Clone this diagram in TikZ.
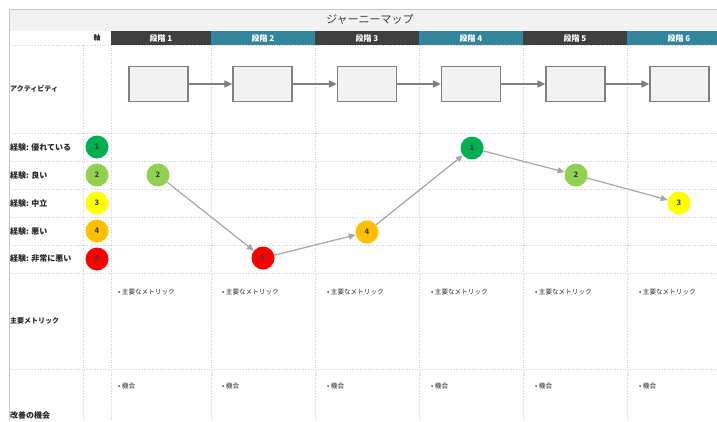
\documentclass[tikz,border=0pt]{standalone}
\usepackage{fontspec}
\setmainfont{Noto Sans CJK JP}
\usetikzlibrary{arrows.meta}
\definecolor{hdrdark}{HTML}{3F3F3F}
\definecolor{hdrteal}{HTML}{31869B}
\definecolor{titlebg}{HTML}{F2F2F2}
\definecolor{framegray}{HTML}{C8C8C8}
\definecolor{gridgray}{HTML}{D0D0D0}
\definecolor{boxfill}{HTML}{F2F2F2}
\definecolor{boxdraw}{HTML}{808080}
\definecolor{pathgray}{HTML}{A6A6A6}
\definecolor{txtdark}{HTML}{262626}
\definecolor{numgray}{HTML}{404040}
\definecolor{c1}{HTML}{00B050}
\definecolor{c2}{HTML}{92D050}
\definecolor{c3}{HTML}{FFFF00}
\definecolor{c4}{HTML}{FFC000}
\definecolor{c5}{HTML}{FF0000}
\tikzset{
  gridline/.style={gridgray, dotted, line width=0.6pt},
  hdrtext/.style={text=white, font=\fontsize{8}{9}\selectfont\bfseries, inner sep=0pt},
  rowlabel/.style={anchor=west, text=txtdark, font=\fontsize{8}{9}\selectfont\bfseries, inner sep=0pt},
  smalllabel/.style={rowlabel, font=\fontsize{7}{8}\selectfont\bfseries},
  celltext/.style={anchor=west, text=txtdark, font=\fontsize{6.6}{8}\selectfont, inner sep=0pt},
  actbox/.style={draw=boxdraw, fill=boxfill, line width=1.2pt, minimum width=59pt, minimum height=35pt, inner sep=0pt},
  actarrow/.style={draw=boxdraw, line width=1.6pt, -{Triangle[length=8pt,width=7pt]}},
  score/.style={circle, minimum size=23pt, inner sep=0pt, text=numgray, font=\fontsize{7.5}{8}\selectfont\bfseries},
  patharrow/.style={draw=pathgray, line width=1.2pt, -{Triangle[length=7pt,width=6pt]}}
}
\begin{document}
\begin{tikzpicture}[x=1pt,y=-1pt]
\useasboundingbox (0,0) rectangle (717,421);
\clip (0,0) rectangle (717,421);
% title bar
\fill[titlebg] (9,9) rectangle (717,31);
\draw[framegray, line width=0.8pt] (9,9) -- (717,9);
\draw[framegray, line width=0.8pt] (9,9) -- (9,421);
\node[text=numgray, font=\fontsize{11}{13}\selectfont, inner sep=0pt] (title) at (370,19) {ジャーニーマップ};
% header row
\foreach \i/\xa/\xb/\c in {1/111/211/hdrdark, 2/211/315/hdrteal, 3/315/419/hdrdark, 4/419/523/hdrteal, 5/523/627/hdrdark, 6/627/731/hdrteal} {
  \fill[\c] (\xa,31) rectangle (\xb,45);
  \node[hdrtext] (h\i) at ({(\xa+\xb)/2},38) {段階 \i};
}
\node[smalllabel, anchor=center] (axis) at (97,38) {軸};
% grid
\foreach \x in {83,111,211,315,419,523,627} {
  \draw[gridline] (\x,45) -- (\x,421);
}
\foreach \y in {45,133,161,189,217,245,273,369} {
  \draw[gridline] (9,\y) -- (717,\y);
}
% row labels
\node[smalllabel] (lact) at (10,89) {アクティビティ};
\node[rowlabel] (le1) at (10,147) {経験: 優れている};
\node[rowlabel] (le2) at (10,175) {経験: 良い};
\node[rowlabel] (le3) at (10,203) {経験: 中立};
\node[rowlabel] (le4) at (10,231) {経験: 悪い};
\node[rowlabel] (le5) at (10,259) {経験: 非常に悪い};
\node[smalllabel] (lmet) at (10,321) {主要メトリック};
\node[rowlabel] (lopp) at (10,415) {改善の機会};
% legend circles
\foreach \k/\y in {1/147,2/175,3/203,4/231,5/259} {
  \node[score, fill=c\k] (l\k) at (97,\y) {\k};
}
% activity boxes
\node[actbox] (a1) at (158.5,84) {};
\node[actbox] (a2) at (262.5,84) {};
\node[actbox] (a3) at (367,84) {};
\node[actbox] (a4) at (471,84) {};
\node[actbox] (a5) at (575.5,84) {};
\node[actbox] (a6) at (679.5,84) {};
\draw[actarrow] (a1) -- (a2);
\draw[actarrow] (a2) -- (a3);
\draw[actarrow] (a3) -- (a4);
\draw[actarrow] (a4) -- (a5);
\draw[actarrow] (a5) -- (a6);
% journey path
\node[score, fill=c2] (p1) at (158,175) {2};
\node[score, fill=c5] (p2) at (263,258) {5};
\node[score, fill=c4] (p3) at (367,232) {4};
\node[score, fill=c1] (p4) at (472,148) {1};
\node[score, fill=c2] (p5) at (576,175) {2};
\node[score, fill=c3] (p6) at (679,203) {3};
\draw[patharrow] (p1) -- (p2);
\draw[patharrow] (p2) -- (p3);
\draw[patharrow] (p3) -- (p4);
\draw[patharrow] (p4) -- (p5);
\draw[patharrow] (p5) -- (p6);
% cells
\foreach \i/\x in {1/118,2/222,3/327,4/431,5/535,6/639} {
  \node[celltext] (m\i) at (\x,292) {• 主要なメトリック};
  \node[celltext] (o\i) at (\x,386) {• 機会};
}
\end{tikzpicture}
\end{document}
